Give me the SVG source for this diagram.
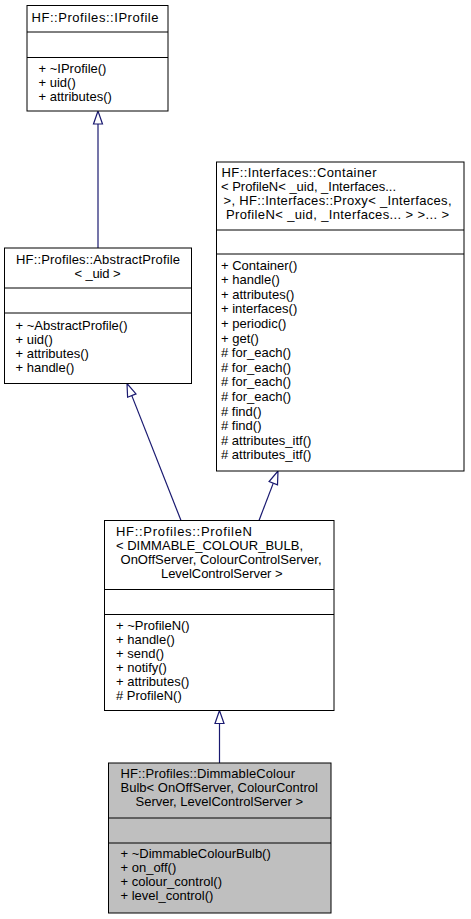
<svg xmlns="http://www.w3.org/2000/svg" width="471" height="919" viewBox="0 0 471 919">
<style>
  .box { fill: #ffffff; stroke: #000000; stroke-width: 1; }
  .hl { fill: #bfbfbf; stroke: #000000; stroke-width: 1; }
  .sep { stroke: #000000; stroke-width: 1; fill: none; }
  text { font-family: "Liberation Sans", Arial, Helvetica, sans-serif; font-size: 13px; fill: #000000; }
  .c { text-anchor: middle; }
  .edge { stroke: #191970; stroke-width: 1.2; fill: none; }
  .head { stroke: #191970; stroke-width: 1.2; fill: #ffffff; }
</style>
<rect width="471" height="919" fill="#ffffff"/>

<g id="connectors">
  <line class="edge" x1="98" y1="248" x2="98" y2="124"/>
  <polygon class="head" points="98,111 93.5,124 102.5,124"/>
  <line class="edge" x1="181" y1="520.5" x2="131.8" y2="395.6"/>
  <polygon class="head" points="127,383.5 127.6,397.2 136,393.9"/>
  <line class="edge" x1="259" y1="520.5" x2="273.3" y2="483.1"/>
  <polygon class="head" points="278,471 277.5,484.8 269.1,481.5"/>
  <line class="edge" x1="219.5" y1="763" x2="219.5" y2="723.5"/>
  <polygon class="head" points="219.5,710.5 215,723.5 224,723.5"/>
</g>

<g id="node-IProfile">
  <rect class="box" x="27" y="5.5" width="141" height="105.5"/>
  <line class="sep" x1="27" y1="32" x2="168" y2="32"/>
  <line class="sep" x1="27" y1="57.5" x2="168" y2="57.5"/>
  <text x="31.5" y="21.5" textLength="127" lengthAdjust="spacing">HF::Profiles::IProfile</text>
  <text x="38.5" y="72.5">+ ~IProfile()</text>
  <text x="38.5" y="86.5">+ uid()</text>
  <text x="38.5" y="100.5">+ attributes()</text>
</g>

<g id="node-AbstractProfile">
  <rect class="box" x="4.5" y="248" width="187" height="135.5"/>
  <line class="sep" x1="4.5" y1="288" x2="191.5" y2="288"/>
  <line class="sep" x1="4.5" y1="313" x2="191.5" y2="313"/>
  <text x="16" y="264" textLength="164" lengthAdjust="spacing">HF::Profiles::AbstractProfile</text>
  <text x="74.5" y="278" textLength="46" lengthAdjust="spacing">&lt; _uid &gt;</text>
  <text x="15.5" y="329.5">+ ~AbstractProfile()</text>
  <text x="15.5" y="343.5">+ uid()</text>
  <text x="15.5" y="357.5">+ attributes()</text>
  <text x="15.5" y="371.5">+ handle()</text>
</g>

<g id="node-Container">
  <rect class="box" x="216.5" y="162" width="247.5" height="309"/>
  <line class="sep" x1="216.5" y1="230" x2="464" y2="230"/>
  <line class="sep" x1="216.5" y1="254" x2="464" y2="254"/>
  <text x="221.5" y="176.5" textLength="155" lengthAdjust="spacing">HF::Interfaces::Container</text>
  <text x="221" y="190.5" textLength="175" lengthAdjust="spacing">&lt; ProfileN&lt; _uid, _Interfaces...</text>
  <text x="223.5" y="204.5" textLength="228" lengthAdjust="spacing">&gt;, HF::Interfaces::Proxy&lt; _Interfaces,</text>
  <text x="226" y="219" textLength="223" lengthAdjust="spacing">ProfileN&lt; _uid, _Interfaces... &gt; &gt;... &gt;</text>
  <text x="221" y="269.5">+ Container()</text>
  <text x="221" y="284.1">+ handle()</text>
  <text x="221" y="298.7">+ attributes()</text>
  <text x="221" y="313.3">+ interfaces()</text>
  <text x="221" y="327.9">+ periodic()</text>
  <text x="221" y="342.5">+ get()</text>
  <text x="221" y="357.1"># for_each()</text>
  <text x="221" y="371.7"># for_each()</text>
  <text x="221" y="386.3"># for_each()</text>
  <text x="221" y="400.9"># for_each()</text>
  <text x="221" y="415.5"># find()</text>
  <text x="221" y="430.1"># find()</text>
  <text x="221" y="444.7"># attributes_itf()</text>
  <text x="221" y="459.3"># attributes_itf()</text>
</g>

<g id="node-ProfileN">
  <rect class="box" x="104.5" y="520.5" width="229.5" height="190"/>
  <line class="sep" x1="104.5" y1="589.5" x2="334" y2="589.5"/>
  <line class="sep" x1="104.5" y1="614.5" x2="334" y2="614.5"/>
  <text x="116" y="535.5" textLength="136" lengthAdjust="spacing">HF::Profiles::ProfileN</text>
  <text x="116" y="549.5" textLength="187" lengthAdjust="spacing">&lt; DIMMABLE_COLOUR_BULB,</text>
  <text x="120.5" y="563.5" textLength="201" lengthAdjust="spacing">OnOffServer, ColourControlServer,</text>
  <text x="161" y="577.5" textLength="121.5" lengthAdjust="spacing">LevelControlServer &gt;</text>
  <text x="116" y="630">+ ~ProfileN()</text>
  <text x="116" y="644">+ handle()</text>
  <text x="116" y="658">+ send()</text>
  <text x="116" y="672">+ notify()</text>
  <text x="116" y="686">+ attributes()</text>
  <text x="116" y="700"># ProfileN()</text>
</g>

<g id="node-DimmableColourBulb">
  <rect class="hl" x="108.5" y="763" width="222.5" height="150"/>
  <line class="sep" x1="108.5" y1="818" x2="331" y2="818"/>
  <line class="sep" x1="108.5" y1="843" x2="331" y2="843"/>
  <text x="120.5" y="777.5" textLength="174.5" lengthAdjust="spacing">HF::Profiles::DimmableColour</text>
  <text x="120.5" y="791.5" textLength="197.5" lengthAdjust="spacing">Bulb&lt; OnOffServer, ColourControl</text>
  <text x="135.5" y="805.5" textLength="167.5" lengthAdjust="spacing">Server, LevelControlServer &gt;</text>
  <text x="120.5" y="858">+ ~DimmableColourBulb()</text>
  <text x="120.5" y="872">+ on_off()</text>
  <text x="120.5" y="886">+ colour_control()</text>
  <text x="120.5" y="900">+ level_control()</text>
</g>
</svg>
